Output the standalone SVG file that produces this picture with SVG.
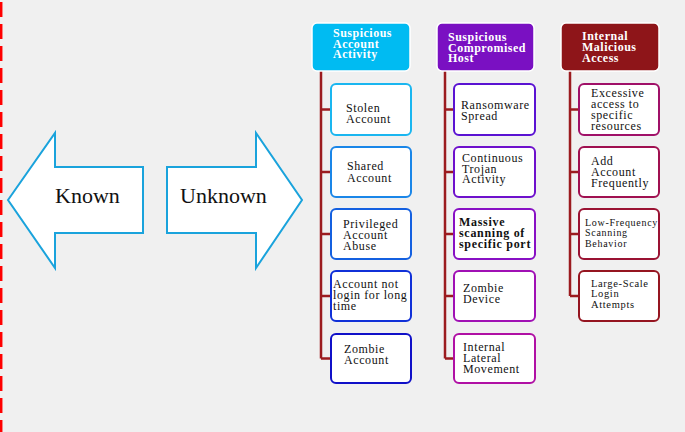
<svg xmlns="http://www.w3.org/2000/svg" width="685" height="432" viewBox="0 0 685 432">
<style>
.arrow{fill:#fff;stroke:#1aa3dc;stroke-width:2}
.big{font-family:"Liberation Serif",serif;font-size:22px;fill:#111}
.hdr{stroke:#fff;stroke-width:1.5}
.ht{font-family:"Liberation Serif",serif;font-size:12px;font-weight:bold;fill:#fff;letter-spacing:0.5px}
.box{fill:#fff;stroke-width:2}
.t{font-family:"Liberation Serif",serif;font-size:12px;fill:#111;letter-spacing:0.6px}
.tb{font-weight:bold;letter-spacing:0.7px}
.ts{font-size:10px;letter-spacing:0.7px}
.tm{font-size:10.5px;letter-spacing:0.65px}
.conn{fill:none;stroke:#9b1b1f;stroke-width:2.5}
</style>
<rect width="685" height="432" fill="#f0f0f0"/>
<line x1="1.2" y1="2" x2="1.2" y2="432" stroke="#ff0000" stroke-width="2.5" stroke-dasharray="15 7"/>

<g id="known">
<polygon class="arrow" points="8,200 55,133 55,167 143,167 143,233 55,233 55,268"/>
<text class="big" x="55" y="203">Known</text>
</g>
<g id="unknown">
<polygon class="arrow" points="167,167 256,167 256,133 302,200 256,268 256,233 167,233"/>
<text class="big" x="180" y="203">Unknown</text>
</g>

<g id="connectors">
<path class="conn" d="M321,71 V358.5 M321,109.5 H331 M321,172 H331 M321,234 H331 M321,296 H331 M321,358.5 H331"/>
<path class="conn" d="M445,71 V358.5 M445,109.5 H454 M445,172 H454 M445,234 H454 M445,296 H454 M445,358.5 H454"/>
<path class="conn" d="M570,71 V296 M570,109.5 H579 M570,172 H579 M570,234 H579 M570,296 H579"/>
</g>

<g id="h1">
<rect class="hdr" x="312" y="23" width="98" height="48" rx="5" fill="#00bbf2"/>
<text class="ht"><tspan x="333" y="37">Suspicious</tspan><tspan x="333" y="48">Account</tspan><tspan x="333" y="58">Activity</tspan></text>
</g>
<g id="h2">
<rect class="hdr" x="437" y="23" width="97" height="48" rx="5" fill="#7a10c2"/>
<text class="ht"><tspan x="448" y="41">Suspicious</tspan><tspan x="448" y="52">Compromised</tspan><tspan x="448" y="62">Host</tspan></text>
</g>
<g id="h3">
<rect class="hdr" x="561" y="23" width="98" height="48" rx="5" fill="#8e1519"/>
<text class="ht"><tspan x="582" y="40">Internal</tspan><tspan x="582" y="51">Malicious</tspan><tspan x="582" y="62">Access</tspan></text>
</g>

<g id="c1n1">
<rect class="box" x="331" y="84" width="80" height="51" rx="5" stroke="#1ab6f0"/>
<text class="t"><tspan x="346" y="112">Stolen</tspan><tspan x="346" y="123">Account</tspan></text>
</g>
<g id="c1n2">
<rect class="box" x="331" y="147" width="80" height="50" rx="5" stroke="#1a86e8"/>
<text class="t"><tspan x="347" y="170">Shared</tspan><tspan x="347" y="182">Account</tspan></text>
</g>
<g id="c1n3">
<rect class="box" x="331" y="209" width="80" height="50" rx="5" stroke="#1460e0"/>
<text class="t"><tspan x="343" y="228">Privileged</tspan><tspan x="343" y="239">Account</tspan><tspan x="343" y="250">Abuse</tspan></text>
</g>
<g id="c1n4">
<rect class="box" x="331" y="271" width="80" height="50" rx="5" stroke="#1030d8"/>
<text class="t"><tspan x="333" y="288">Account not</tspan><tspan x="333" y="299">login for long</tspan><tspan x="333" y="310">time</tspan></text>
</g>
<g id="c1n5">
<rect class="box" x="331" y="334" width="80" height="49" rx="5" stroke="#1010c8"/>
<text class="t"><tspan x="344" y="353">Zombie</tspan><tspan x="344" y="364">Account</tspan></text>
</g>

<g id="c2n1">
<rect class="box" x="454" y="84" width="81" height="51" rx="5" stroke="#5a12d2"/>
<text class="t"><tspan x="461" y="109">Ransomware</tspan><tspan x="461" y="120">Spread</tspan></text>
</g>
<g id="c2n2">
<rect class="box" x="454" y="147" width="81" height="50" rx="5" stroke="#6e10cc"/>
<text class="t"><tspan x="462" y="162">Continuous</tspan><tspan x="462" y="173">Trojan</tspan><tspan x="462" y="183">Activity</tspan></text>
</g>
<g id="c2n3">
<rect class="box" x="454" y="209" width="81" height="50" rx="5" stroke="#8810c4"/>
<text class="t tb"><tspan x="459" y="226">Massive</tspan><tspan x="459" y="237">scanning of</tspan><tspan x="459" y="248">specific port</tspan></text>
</g>
<g id="c2n4">
<rect class="box" x="454" y="271" width="81" height="50" rx="5" stroke="#a010b4"/>
<text class="t"><tspan x="463" y="292">Zombie</tspan><tspan x="463" y="303">Device</tspan></text>
</g>
<g id="c2n5">
<rect class="box" x="454" y="334" width="81" height="49" rx="5" stroke="#b010a4"/>
<text class="t"><tspan x="463" y="351">Internal</tspan><tspan x="463" y="362">Lateral</tspan><tspan x="463" y="373">Movement</tspan></text>
</g>

<g id="c3n1">
<rect class="box" x="579" y="84" width="80" height="51" rx="5" stroke="#a01068"/>
<text class="t"><tspan x="591" y="97">Excessive</tspan><tspan x="591" y="108">access to</tspan><tspan x="591" y="119">specific</tspan><tspan x="591" y="130">resources</tspan></text>
</g>
<g id="c3n2">
<rect class="box" x="579" y="147" width="80" height="50" rx="5" stroke="#a01050"/>
<text class="t"><tspan x="591" y="165">Add</tspan><tspan x="591" y="176">Account</tspan><tspan x="591" y="187">Frequently</tspan></text>
</g>
<g id="c3n3">
<rect class="box" x="579" y="209" width="80" height="50" rx="5" stroke="#9a1232"/>
<text class="t ts"><tspan x="585" y="226">Low-Frequency</tspan><tspan x="585" y="236">Scanning</tspan><tspan x="585" y="247">Behavior</tspan></text>
</g>
<g id="c3n4">
<rect class="box" x="579" y="271" width="80" height="50" rx="5" stroke="#951520"/>
<text class="t tm"><tspan x="591" y="287">Large-Scale</tspan><tspan x="591" y="297">Login</tspan><tspan x="591" y="308">Attempts</tspan></text>
</g>
</svg>
